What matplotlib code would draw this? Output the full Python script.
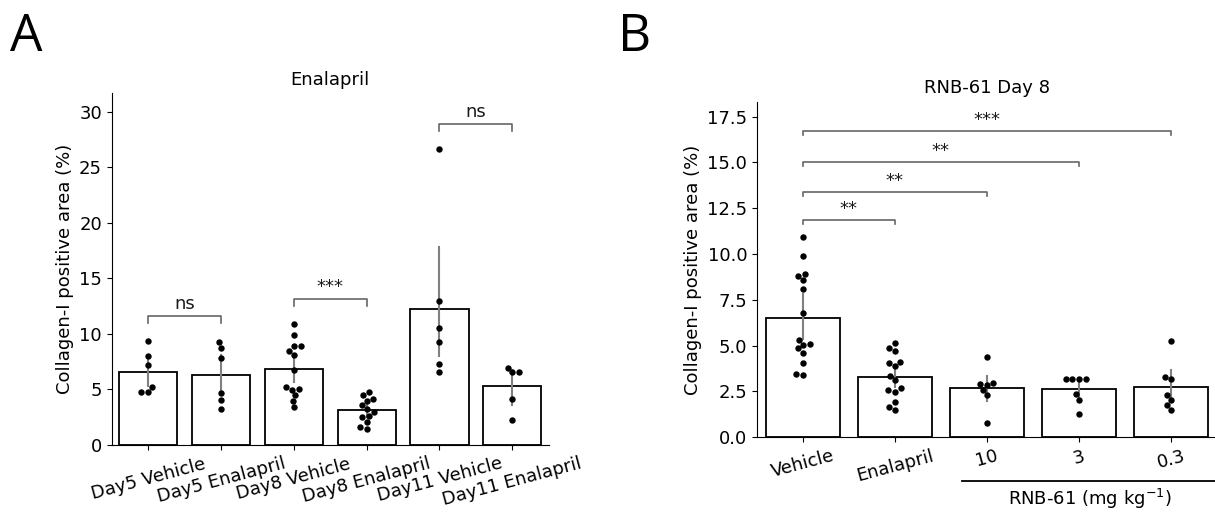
import numpy as np
import pandas as pd
import matplotlib
matplotlib.use("Agg")
import matplotlib.pyplot as plt
import seaborn as sns

# Panel A: Enalapril time course
groups_a = ["Day5 Vehicle", "Day5 Enalapril", "Day8 Vehicle",
            "Day8 Enalapril", "Day11 Vehicle", "Day11 Enalapril"]
day5_vehicle = [9.4, 8.0, 7.2, 5.25, 4.8, 4.8]
day5_enalapril = [9.3, 8.76, 7.83, 4.71, 4.02, 3.27]
day8_vehicle = [10.89, 9.9, 8.91, 8.88, 8.49, 8.1, 6.75, 5.25, 5.0, 4.98,
                4.5, 3.96, 3.39]
day8_enalapril = [4.8, 4.5, 4.11, 4.0, 3.6, 3.2, 3.0, 2.6, 2.5, 2.05,
                  1.65, 1.44]
day11_vehicle = [26.6, 13.0, 10.5, 9.3, 7.26, 6.54]
day11_enalapril = [6.57, 6.55, 6.96, 4.17, 2.25]

# Panel B: RNB-61 day 8
groups_b = ["Vehicle", "Enalapril", "10", "3", "0.3"]
vehicle_b = [10.94, 9.91, 8.91, 8.82, 8.58, 8.09, 6.76, 5.31, 5.09, 5.05,
             4.85, 4.62, 4.04, 3.45, 3.42]
enalapril_b = [5.13, 4.85, 4.71, 4.13, 4.07, 3.89, 3.35, 3.13, 2.67, 2.58,
               2.49, 1.95, 1.67, 1.49]
rnb_10 = [4.36, 2.95, 2.93, 2.85, 2.58, 2.31, 0.8]
rnb_3 = [3.2, 3.19, 3.18, 3.17, 2.36, 2.04, 1.27]
rnb_03 = [5.24, 3.2, 3.31, 2.31, 2.04, 1.76, 1.49]

# significance annotations: (group i, group j, bracket height, label)
sig_a = [(0, 1, 11.6, "ns"), (2, 3, 13.1, "***"), (4, 5, 28.85, "ns")]
sig_b = [(0, 1, 11.85, "**"), (0, 2, 13.38, "**"), (0, 3, 15.04, "**"),
         (0, 4, 16.73, "***")]


def long_form(names, values):
    rows = []
    for n, vals in zip(names, values):
        for v in vals:
            rows.append((n, v))
    return pd.DataFrame(rows, columns=["group", "value"])


def bracket(ax, x1, x2, y, h, text):
    ax.plot([x1, x1, x2, x2], [y - h, y, y, y - h], color="0.4", lw=1.2)
    ax.text((x1 + x2) / 2, y + h * 0.5, text, ha="center", va="bottom",
            fontsize=13, color="0.1")


def panel(ax, df, order, ylim):
    sns.barplot(data=df, x="group", y="value", order=order, ax=ax,
                color="white", edgecolor="black", linewidth=1.3,
                errorbar=("ci", 95), seed=0,
                err_kws={"color": "0.5", "linewidth": 1.5})
    sns.swarmplot(data=df, x="group", y="value", order=order, ax=ax,
                  color="black", size=4.6)
    ax.set_ylim(*ylim)
    ax.set_xlim(-0.5, len(order) - 0.5)
    ax.spines["top"].set_visible(False)
    ax.spines["right"].set_visible(False)
    ax.set_xlabel("")
    ax.set_ylabel("Collagen-I positive area (%)", fontsize=13)
    ax.tick_params(labelsize=13)
    for lab in ax.get_xticklabels():
        lab.set_rotation(15)
        lab.set_ha("center")


fig = plt.figure(figsize=(12.15, 5.14), dpi=100)
ax1 = fig.add_axes([0.092, 0.1342, 0.3596, 0.6842])
ax2 = fig.add_axes([0.623, 0.1492, 0.3786, 0.6529])

df_a = long_form(groups_a, [day5_vehicle, day5_enalapril, day8_vehicle,
                            day8_enalapril, day11_vehicle, day11_enalapril])
panel(ax1, df_a, groups_a, (0, 31.65))
ax1.set_yticks([0, 5, 10, 15, 20, 25, 30])
ax1.set_title("Enalapril", fontsize=13)
for i, j, y, t in sig_a:
    bracket(ax1, i, j, y, 0.6, t)

df_b = long_form(groups_b, [vehicle_b, enalapril_b, rnb_10, rnb_3, rnb_03])
panel(ax2, df_b, groups_b, (0, 18.31))
ax2.set_yticks(np.arange(0, 17.6, 2.5))
ax2.set_title("RNB-61 Day 8", fontsize=13)
for i, j, y, t in sig_b:
    bracket(ax2, i, j, y, 0.22, t)

# RNB-61 dose group line under x labels
ax2.plot([0.445, 1.0], [-0.13, -0.13], transform=ax2.transAxes,
         color="black", lw=1.3, clip_on=False)
ax2.text(0.723, -0.185, "RNB-61 (mg kg$^{-1}$)", transform=ax2.transAxes,
         ha="center", va="center", fontsize=13)

fig.text(0.008, 0.928, "A", fontsize=37, family="Open Sans", va="center")
fig.text(0.509, 0.928, "B", fontsize=37, family="Open Sans", va="center")

fig.savefig("out.png", dpi=100)
